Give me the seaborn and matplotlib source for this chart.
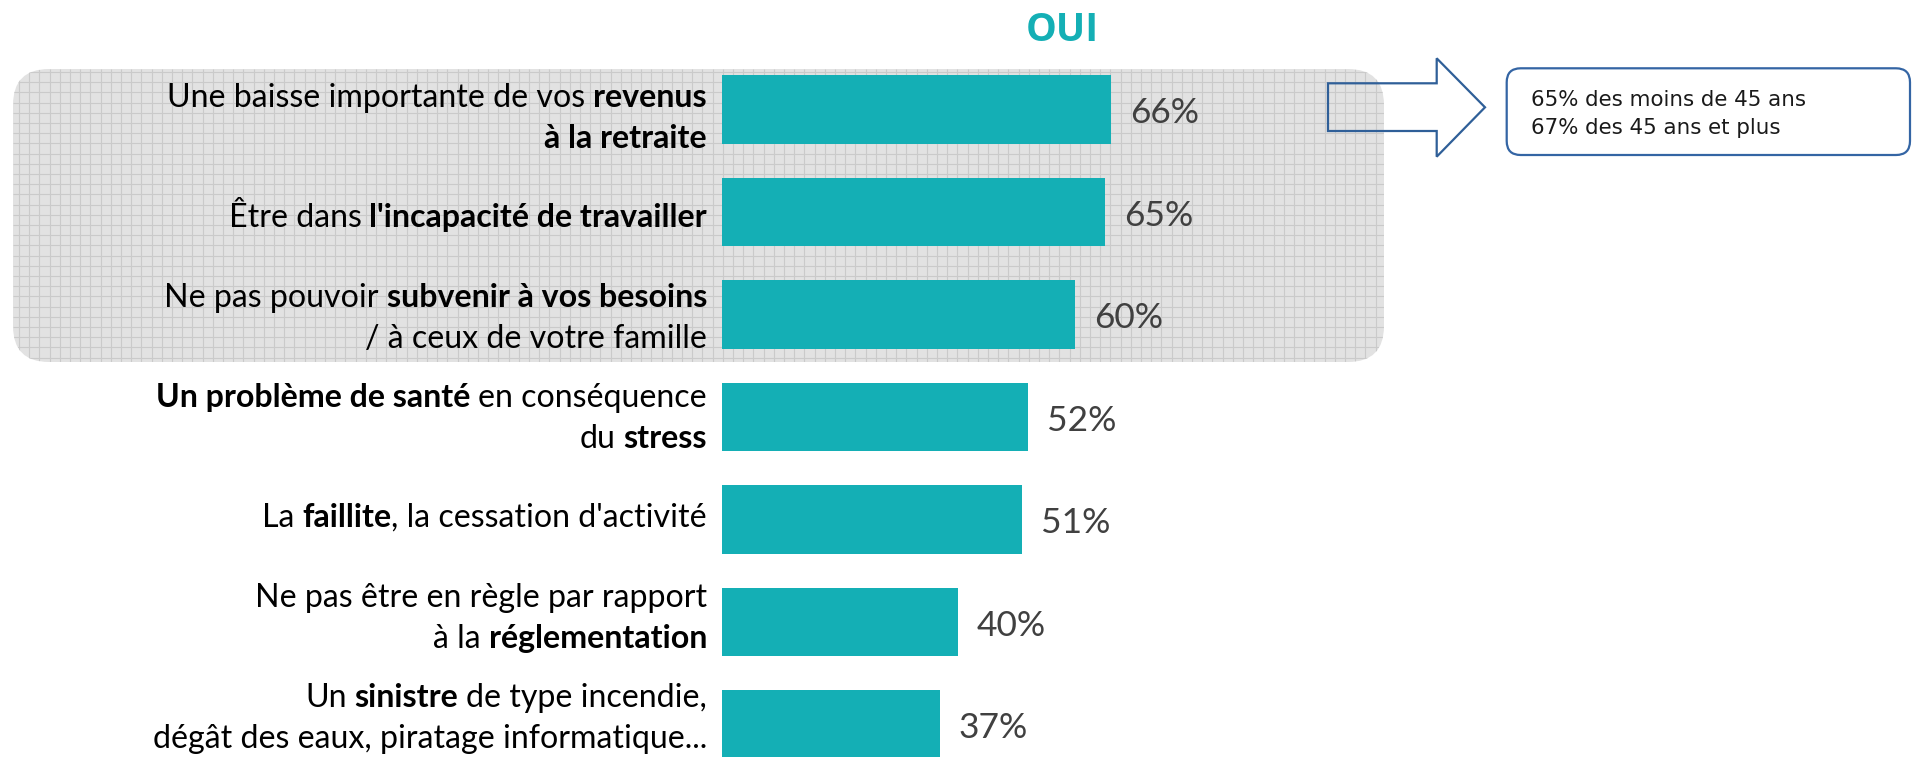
import numpy as np
import matplotlib.pyplot as plt
import seaborn as sns
from matplotlib.patches import FancyBboxPatch, Polygon

# ----------- Data -----------
categories = [
    "Une baisse importante de vos revenus à la retraite",
    "Être dans l'incapacité de travailler",
    "Ne pas pouvoir subvenir à vos besoins / à ceux de votre famille",
    "Un problème de santé en conséquence du stress",
    "La faillite, la cessation d'activité",
    "Ne pas être en règle par rapport à la réglementation",
    "Un sinistre de type incendie, dégât des eaux, piratage informatique...",
]
values = [66, 65, 60, 52, 51, 40, 37]

# label lines, each line = list of (text, bold)
label_lines = [
    [[("Une baisse importante de vos ", False), ("revenus", True)],
     [("à la retraite", True)]],
    [[("Être dans ", False), ("l'incapacité de travailler", True)]],
    [[("Ne pas pouvoir ", False), ("subvenir à vos besoins", True)],
     [("/ à ceux de votre famille", False)]],
    [[("Un problème de santé", True), (" en conséquence", False)],
     [("du ", False), ("stress", True)]],
    [[("La ", False), ("faillite", True), (", la cessation d'activité", False)]],
    [[("Ne pas être en règle par rapport", False)],
     [("à la ", False), ("réglementation", True)]],
    [[("Un ", False), ("sinistre", True), (" de type incendie,", False)],
     [("dégât des eaux, piratage informatique...", False)]],
]
title = "OUI"
note_lines = ["65% des moins de 45 ans", "67% des 45 ans et plus"]

TEAL = "#14afb5"
LABEL_FS = 23.1
SPACE = 8

sns.set_style("white")
plt.rcParams["font.family"] = ["Lato", "DejaVu Sans"]

W, H = 1917, 757
fig = plt.figure(figsize=(W / 100, H / 100), dpi=100)

# ----------- Background layer (pixel coords) -----------
bg = fig.add_axes([0, 0, 1, 1])
bg.set_xlim(0, W)
bg.set_ylim(H, 0)
bg.axis("off")

box = FancyBboxPatch((13, 69), 1371, 293, boxstyle="round,pad=0,rounding_size=36",
                     facecolor="#e2e2e2", edgecolor="none", zorder=1)
bg.add_patch(box)
vl = bg.vlines(np.arange(19, 1384, 10.2), 69, 362, colors="#cacaca", lw=0.8, zorder=2)
hl = bg.hlines(np.arange(72, 362, 10.2), 13, 1384, colors="#cacaca", lw=0.8, zorder=2)
vl.set_clip_path(box)
hl.set_clip_path(box)

arrow = Polygon([(1328, 83.3), (1436.7, 83.3), (1436.7, 58.3), (1485, 107.3),
                 (1436.7, 156.7), (1436.7, 131), (1328, 131)],
                closed=True, fill=False, edgecolor="#2f5f98", lw=1.6, zorder=4)
bg.add_patch(arrow)

note_box = FancyBboxPatch((1506.7, 68.3), 403.3, 86.7, boxstyle="round,pad=0,rounding_size=14",
                          facecolor="white", edgecolor="#3465a4", lw=1.6, zorder=4)
bg.add_patch(note_box)
for k, line in enumerate(note_lines):
    bg.text(1530.7, 105.7 + 28.3 * k, line, va="baseline", ha="left",
            fontsize=15.4, family="DejaVu Sans", color="#1a1a1a", zorder=5)

# ----------- Bars -----------
ax = fig.add_axes([722 / W, 1 - 775.75 / H, 589 / W, 717.5 / H])
sns.barplot(x=values, y=categories, orient="h", color=TEAL, saturation=1,
            width=0.673, linewidth=0, ax=ax)
ax.set_xlim(0, 100)
ax.set_ylim(6.5, -0.5)
ax.axis("off")

for i, v in enumerate(values):
    ax.annotate(f"{v}%", xy=(v, i), xytext=(19, -13.7), textcoords="offset pixels",
                va="baseline", ha="left", fontsize=25.5, color="#404040",
                annotation_clip=False)

# category labels, right aligned, bold parts chained right to left
for i, lines in enumerate(label_lines):
    n = len(lines)
    shift = 17.5 - 2.5 * i
    for k, parts in enumerate(lines):
        dy = -(shift + (k - (n - 1) / 2) * 41)
        right, right_raw = None, ""
        for seg, bold in reversed(parts):
            kw = dict(ha="right", va="baseline", fontsize=LABEL_FS, color="black",
                      fontweight="bold" if bold else "normal", annotation_clip=False)
            if right is None:
                t = ax.annotate(seg.strip(), xy=(0, i), xycoords="data",
                                xytext=(-15, dy), textcoords="offset pixels", **kw)
            else:
                gap = SPACE if (seg.endswith(" ") or right_raw.startswith(" ")) else 0
                t = ax.annotate(seg.strip(), xy=(0, i), xycoords=(right, "data"),
                                xytext=(-gap, dy), textcoords="offset pixels", **kw)
            right, right_raw = t, seg

fig.text(1062 / W, 1 - 40.7 / H, title, ha="center", va="baseline", fontsize=28,
         fontweight="bold", color=TEAL, family=["Open Sans", "DejaVu Sans"])

fig.savefig("out.png", dpi=100)
